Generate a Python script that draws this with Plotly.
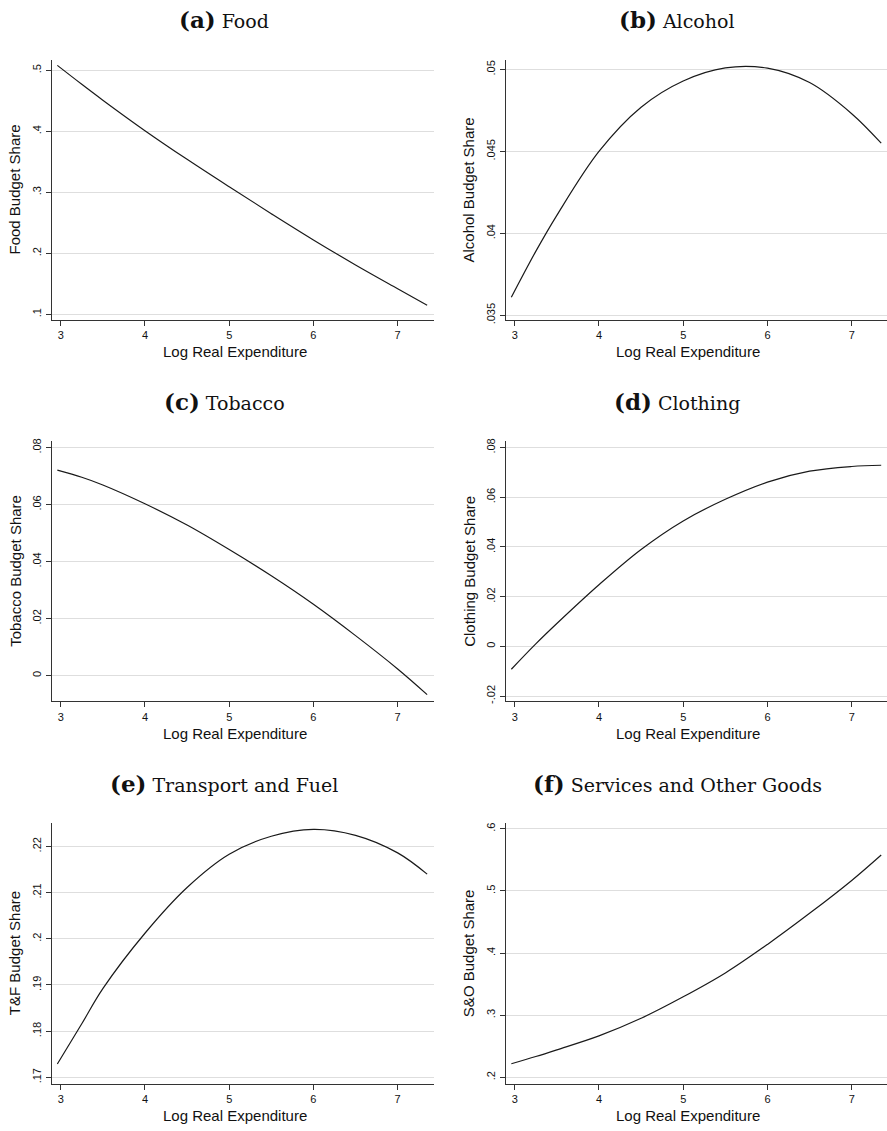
import plotly.graph_objects as go

# ---- data ----
log_exp = [2.96, 3.25, 3.5, 4.0, 4.5, 5.0, 5.5, 6.0, 6.5, 7.0, 7.35]

food = [0.508, 0.477, 0.451, 0.401, 0.354, 0.309, 0.265, 0.222, 0.181, 0.142, 0.115]
alcohol = [0.0361, 0.0389, 0.0411, 0.0450, 0.0477, 0.0493, 0.05010, 0.05008, 0.0492, 0.0473, 0.0455]
tobacco = [0.0721, 0.0696, 0.0669, 0.0603, 0.0528, 0.0442, 0.0350, 0.0250, 0.0140, 0.0023, -0.0067]
clothing = [-0.0092, 0.0010, 0.0092, 0.0248, 0.0390, 0.0505, 0.0592, 0.0661, 0.0705, 0.0724, 0.0729]
transport = [0.1729, 0.1816, 0.1892, 0.2012, 0.2111, 0.2183, 0.2222, 0.2237, 0.2224, 0.2186, 0.2140]
services = [0.2219, 0.2335, 0.2443, 0.2667, 0.2950, 0.3296, 0.368, 0.414, 0.464, 0.517, 0.558]

x_ticks = [3, 4, 5, 6, 7]
x_ticklabels = ["3", "4", "5", "6", "7"]

panels = [
    dict(letter="(a)", name="Food", ytitle="Food Budget Share", y=food,
         yticks=[0.1, 0.2, 0.3, 0.4, 0.5], ylabels=[".1", ".2", ".3", ".4", ".5"],
         yrange=[0.0907, 0.5174]),
    dict(letter="(b)", name="Alcohol", ytitle="Alcohol Budget Share", y=alcohol,
         yticks=[0.035, 0.04, 0.045, 0.05], ylabels=[".035", ".04", ".045", ".05"],
         yrange=[0.03471, 0.0506]),
    dict(letter="(c)", name="Tobacco", ytitle="Tobacco Budget Share", y=tobacco,
         yticks=[0, 0.02, 0.04, 0.06, 0.08], ylabels=["0", ".02", ".04", ".06", ".08"],
         yrange=[-0.00907, 0.08233]),
    dict(letter="(d)", name="Clothing", ytitle="Clothing Budget Share", y=clothing,
         yticks=[-0.02, 0, 0.02, 0.04, 0.06, 0.08], ylabels=["-.02", "0", ".02", ".04", ".06", ".08"],
         yrange=[-0.02213, 0.08267]),
    dict(letter="(e)", name="Transport and Fuel", ytitle="T&F Budget Share", y=transport,
         yticks=[0.17, 0.18, 0.19, 0.2, 0.21, 0.22], ylabels=[".17", ".18", ".19", ".2", ".21", ".22"],
         yrange=[0.16857, 0.22509]),
    dict(letter="(f)", name="Services and Other Goods", ytitle="S&O Budget Share", y=services,
         yticks=[0.2, 0.3, 0.4, 0.5, 0.6], ylabels=[".2", ".3", ".4", ".5", ".6"],
         yrange=[0.18933, 0.6096]),
]

# ---- layout geometry (pixels) ----
W, H = 887, 1131
col_x = [(51.7, 434.3), (505.7, 887.0)]
row_y = [(57.0, 319.0), (440.7, 702.7), (825.0, 1087.7)]
x_range_left = [2.893, 7.435]
x_range_right = [2.893, 2.893 + (887.0 - 505.7) / 84.25]

AX_FONT = "Liberation Sans, Arial, sans-serif"
TITLE_FONT = "DejaVu Serif, Liberation Serif, serif"

fig = go.Figure()
annotations = []
layout = dict(
    width=W, height=H,
    margin=dict(l=0, r=0, t=0, b=0),
    paper_bgcolor="white", plot_bgcolor="white",
    showlegend=False,
)

for i, p in enumerate(panels):
    r, c = divmod(i, 2)
    x0, x1 = col_x[c]
    y0, y1 = row_y[r]
    n = "" if i == 0 else str(i + 1)
    xa, ya = "xaxis" + n, "yaxis" + n
    fig.add_trace(go.Scatter(
        x=log_exp, y=p["y"], mode="lines", line_shape="spline",
        line=dict(color="#1a1a1a", width=1.2),
        xaxis="x" + n, yaxis="y" + n, hoverinfo="x+y",
    ))
    layout[xa] = dict(
        domain=[x0 / W, x1 / W], anchor="y" + n,
        range=x_range_left if c == 0 else x_range_right,
        tickmode="array", tickvals=x_ticks, ticktext=x_ticklabels,
        ticks="outside", ticklen=5, tickwidth=1, tickcolor="#333",
        showline=True, linecolor="#333", linewidth=1.2,
        showgrid=False, zeroline=False,
        tickfont=dict(family=AX_FONT, size=11, color="#111"),
    )
    layout[ya] = dict(
        domain=[1 - y1 / H, 1 - y0 / H], anchor="x" + n,
        range=p["yrange"],
        tickmode="array", tickvals=p["yticks"], ticktext=p["ylabels"],
        ticks="outside", ticklen=5, tickwidth=1, tickcolor="#333",
        tickangle=-90,
        showline=True, linecolor="#333", linewidth=1.2,
        showgrid=True, gridcolor="#dedede", gridwidth=1.2, zeroline=False,
        tickfont=dict(family=AX_FONT, size=11, color="#111"),
    )
    # panel title
    title_cx = (x0 + x1) / 2 - 19
    title_cy = y0 - 40
    annotations.append(dict(
        xref="paper", yref="paper", x=title_cx / W, y=1 - title_cy / H,
        xanchor="center", yanchor="middle", showarrow=False,
        text="<span style='font-size:23px'><b>" + p["letter"] + "</b></span> " + p["name"],
        font=dict(family=TITLE_FONT, size=19, color="#111"),
    ))
    # x axis title
    annotations.append(dict(
        xref="paper", yref="paper", x=((x0 + x1) / 2 - 8) / W, y=1 - (y1 + 32) / H,
        xanchor="center", yanchor="middle", showarrow=False,
        text="Log Real Expenditure",
        font=dict(family=AX_FONT, size=15, color="#111"),
    ))
    # y axis title
    annotations.append(dict(
        xref="paper", yref="paper", x=(x0 - 37) / W, y=1 - ((y0 + y1) / 2) / H,
        xanchor="center", yanchor="middle", showarrow=False, textangle=-90,
        text=p["ytitle"],
        font=dict(family=AX_FONT, size=15, color="#111"),
    ))

layout["annotations"] = annotations
fig.update_layout(**layout)
fig.write_html(
    "out.html",
    config={"displayModeBar": False},
    post_script="document.body.style.margin='0';document.body.style.overflow='hidden';",
)
